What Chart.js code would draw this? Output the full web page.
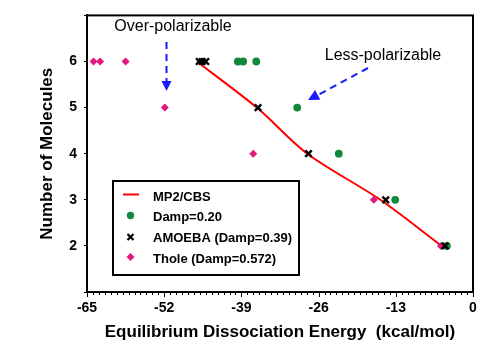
<!DOCTYPE html>
<html><head><meta charset="utf-8">
<script src="https://cdn.jsdelivr.net/npm/chart.js@4/dist/chart.umd.min.js"></script>
<style>html,body{margin:0;padding:0;background:#fff}#wrap{width:500px;height:356px}</style>
</head><body><div id="wrap"><canvas id="c" width="500" height="356"></canvas></div>
<script>
const molecules = [6, 5, 4, 3, 2];
const mp2cbs = [-46.5, -36.4, -27.9, -15.6, -5.3];
const damp020X = [-39.6, -38.7, -36.5, -29.6, -22.6, -13.1, -4.4];
const damp020Y = [6, 6, 6, 5, 4, 3, 2];
const amoebaX = [-46.1, -45.6, -45.0, -36.2, -27.7, -14.7, -4.7];
const amoebaY = [6, 6, 6, 5, 4, 3, 2];
const tholeX = [-63.9, -62.8, -58.5, -51.9, -37.0, -16.7, -5.4];
const tholeY = [6, 6, 6, 5, 4, 3, 2];
const xTicks = [-65, -52, -39, -26, -13, 0];
const legendLabels = ['MP2/CBS', 'Damp=0.20', 'AMOEBA (Damp=0.39)', 'Thole (Damp=0.572)'];

const FONT = '"Liberation Sans", Arial, sans-serif';
const zip = (xs, ys) => xs.map((x, i) => ({x, y: ys[i]}));

const extras = {
  id: 'extras',
  afterDraw(chart) {
    const ctx = chart.ctx, a = chart.chartArea;
    const xs = chart.scales.x;
    ctx.save();
    // frame
    ctx.strokeStyle = '#000'; ctx.lineWidth = 2;
    ctx.strokeRect(a.left, a.top, a.right - a.left, a.bottom - a.top);
    // minor x ticks
    ctx.lineWidth = 1;
    for (let v = -65; v <= 0; v++) {
      const px = Math.round(xs.getPixelForValue(v)) + 0.5;
      ctx.beginPath(); ctx.moveTo(px, a.bottom); ctx.lineTo(px, a.bottom + (v % 13 === 0 ? 5 : 3)); ctx.stroke();
    }
    // legend box
    ctx.lineWidth = 2;
    ctx.strokeRect(113, 181, 186, 94);
    ctx.font = 'bold 13px ' + FONT; ctx.fillStyle = '#000'; ctx.textBaseline = 'middle'; ctx.textAlign = 'left';
    const rows = [197, 217.5, 238, 259.5];
    legendLabels.forEach((t, i) => ctx.fillText(t, 153, rows[i]));
    // symbols
    ctx.strokeStyle = '#ff0000'; ctx.lineWidth = 2;
    ctx.beginPath(); ctx.moveTo(123, 194.5); ctx.lineTo(139, 194.5); ctx.stroke();
    ctx.fillStyle = '#12883a';
    ctx.beginPath(); ctx.arc(130.5, 215.5, 3.7, 0, Math.PI * 2); ctx.fill();
    ctx.strokeStyle = '#000'; ctx.lineWidth = 2.2;
    ctx.beginPath(); ctx.moveTo(127.5, 234); ctx.lineTo(133.5, 240); ctx.moveTo(133.5, 234); ctx.lineTo(127.5, 240); ctx.stroke();
    ctx.fillStyle = '#e0177c';
    ctx.beginPath(); ctx.moveTo(130.5, 253); ctx.lineTo(134.5, 257); ctx.lineTo(130.5, 261); ctx.lineTo(126.5, 257); ctx.closePath(); ctx.fill();
    // annotations
    ctx.font = '16px ' + FONT; ctx.fillStyle = '#000'; ctx.textAlign = 'center';
    ctx.fillText('Over-polarizable', 173, 27);
    ctx.fillText('Less-polarizable', 383, 56);
    ctx.strokeStyle = '#1a1aff'; ctx.fillStyle = '#1a1aff'; ctx.lineWidth = 2; ctx.setLineDash([7, 5]);
    ctx.beginPath(); ctx.moveTo(166.5, 42); ctx.lineTo(166.5, 82); ctx.stroke();
    ctx.beginPath(); ctx.moveTo(368, 68); ctx.lineTo(318, 95); ctx.stroke();
    ctx.setLineDash([]);
    ctx.beginPath(); ctx.moveTo(161.5, 81); ctx.lineTo(171.5, 81); ctx.lineTo(166.5, 91); ctx.closePath(); ctx.fill();
    const tx = 308, ty = 100, ang = Math.atan2(68 - 100, 368 - 308);
    const L = 11, W = 5.5;
    const bx = tx + L * Math.cos(ang), by = ty + L * Math.sin(ang);
    ctx.beginPath(); ctx.moveTo(tx, ty);
    ctx.lineTo(bx + W * Math.sin(ang), by - W * Math.cos(ang));
    ctx.lineTo(bx - W * Math.sin(ang), by + W * Math.cos(ang));
    ctx.closePath(); ctx.fill();
    ctx.restore();
  }
};

new Chart(document.getElementById('c'), {
  type: 'scatter',
  data: {
    datasets: [
      { label: legendLabels[0], type: 'line', data: zip(mp2cbs, molecules), borderColor: '#ff0000', borderWidth: 2, pointRadius: 0, tension: 0.3, fill: false, order: 3 },
      { label: legendLabels[1], data: zip(damp020X, damp020Y), pointStyle: 'circle', pointRadius: 3.9, backgroundColor: '#12883a', borderColor: '#12883a', borderWidth: 0, order: 2 },
      { label: legendLabels[3], data: zip(tholeX, tholeY), pointStyle: 'rectRot', pointRadius: 4, backgroundColor: '#e0177c', borderColor: '#e0177c', borderWidth: 0, order: 1 },
      { label: legendLabels[2], data: zip(amoebaX, amoebaY), pointStyle: 'crossRot', pointRadius: 4.6, borderColor: '#000', borderWidth: 2.4, order: 0 }
    ]
  },
  options: {
    responsive: false, animation: false,
    layout: { padding: { top: 13, right: 27, left: 0, bottom: 0 } },
    plugins: { legend: { display: false }, tooltip: { enabled: false } },
    scales: {
      x: {
        type: 'linear', min: -65, max: 0,
        afterBuildTicks: s => { s.ticks = xTicks.map(v => ({value: v})); },
        afterFit: s => { s.height = 64; },
        grid: { drawOnChartArea: false, drawTicks: false },
        border: { color: '#000', width: 2 },
        ticks: { color: '#000', font: { family: FONT, size: 14, weight: 'bold' }, padding: 8, maxRotation: 0 },
        title: { display: true, text: 'Equilibrium Dissociation Energy  (kcal/mol)', color: '#000', font: { family: FONT, size: 17, weight: 'bold' }, padding: { top: 0, bottom: 13 } }
      },
      y: {
        type: 'linear', min: 1, max: 7,
        afterFit: s => { s.width = 87; },
        grid: { drawOnChartArea: false, drawTicks: true, tickLength: 3, color: '#000', tickWidth: 1 },
        border: { color: '#000', width: 2 },
        ticks: { stepSize: 1, color: '#000', font: { family: FONT, size: 14, weight: 'bold' }, padding: 7, callback: v => (v === 1 || v === 7) ? '' : String(v) },
        title: { display: true, text: 'Number of Molecules', color: '#000', font: { family: FONT, size: 17, weight: 'bold' }, padding: { top: 37, bottom: 0 } }
      }
    }
  },
  plugins: [extras]
});
</script></body></html>
